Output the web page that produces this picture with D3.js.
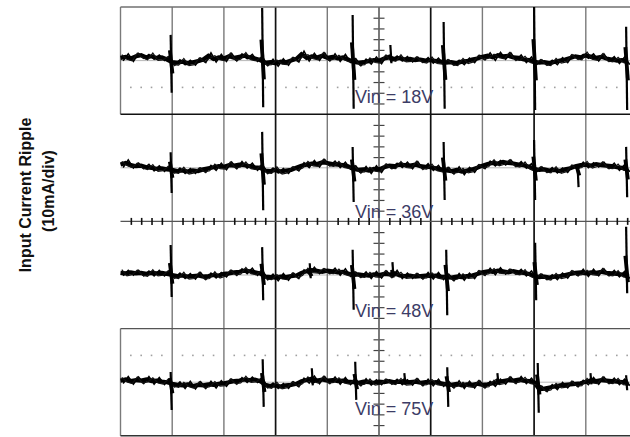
<!DOCTYPE html>
<html lang="en">
<head>
<meta charset="utf-8">
<title>Input Current Ripple</title>
<script src="https://cdn.jsdelivr.net/npm/d3@7"></script>
<style>
  body { margin: 0; background: #fff; }
  svg { display: block; }
  .lbl { font-family: "Liberation Sans", Arial, sans-serif; font-size: 18px; fill: #3c3c66; }
  .ttl { font-family: "Liberation Sans", Arial, sans-serif; font-size: 16px; font-weight: bold; fill: #111; }
</style>
</head>
<body>
<svg id="scope" width="630" height="437"></svg>
<script>
// time axis in divisions, samples every 0.1 div; values in mA (10 mA/div)
var vinLabels = ["Vin = 18V", "Vin = 36V", "Vin = 48V", "Vin = 75V"];
var offsets = [30, 10, -10, -30];   // trace baseline, mA from screen centre
var step = 0.1;

var ripple18 = [0.5,0.7,0.4,0.8,1.0,0.6,0.8,0.5,0.6,0.2, -0.3,-0.4,-0.2,-0.5,-0.3,-0.1,0.2,0.9,0.3,0.6,
  0.4,0.8,0.5,0.7,0.9,0.6,0.4,0.1,-0.4,-0.3, -0.5,-0.2,-0.3,0.0,0.3,1.2,0.5,0.8,0.6,0.9,
  0.5,0.7,0.4,0.6,0.2,-0.2,-0.4,-0.3,-0.1,0.1, 0.0,0.4,0.6,0.3,0.5,0.2,0.3,0.1,0.2,0.0,
  0.1,-0.1,-0.2,-0.4,-0.3,-0.5,-0.2,-0.1,0.2,0.4, 0.7,0.9,0.6,1.0,0.8,0.9,0.6,0.5,0.2,0.1,
  -0.2,-0.4,-0.3,-0.5,-0.2,0.0,0.2,0.5,0.8,0.6, 1.0,0.7,0.5,0.7,0.4,0.2,0.0,0.1,-0.2];
var ripple36 = [0.6,0.9,0.5,0.3,0.4,0.1,0.0,-0.2,-0.1,-0.3, -0.4,-0.6,-0.5,-0.7,-0.5,-0.6,-0.3,-0.1,0.1,0.3,
  0.2,0.5,0.4,0.6,0.5,0.3,0.1,0.0,-0.5,-0.6, -0.4,-0.7,-0.5,-0.4,0.0,0.4,0.6,0.8,0.7,1.0,
  0.9,0.7,0.6,0.5,0.3,-0.2,-0.4,-0.3,-0.5,-0.2, -0.3,0.1,0.4,0.3,0.6,0.5,0.4,0.6,0.3,0.2,
  0.1,-0.1,-0.3,-0.5,-0.6,-0.4,-0.7,-0.5,-0.3,0.0, 0.4,0.7,0.9,0.8,1.1,0.9,0.8,0.6,0.5,0.2,
  -0.2,-0.4,-0.3,-0.5,-0.4,-0.6,-0.3,-0.1,0.3,0.5, 0.6,0.4,0.7,0.5,0.4,0.3,0.1,0.0,-0.2];
var ripple48 = [0.4,0.3,0.5,0.3,0.4,0.2,0.4,0.3,0.4,0.2, 0.0,-0.2,-0.1,-0.3,-0.2,-0.1,-0.3,-0.2,0.0,-0.1,
  0.2,0.3,0.5,0.6,0.8,0.7,0.5,0.3,-0.3,-0.4, -0.5,-0.3,-0.4,-0.2,-0.1,0.4,0.7,0.9,0.8,0.6,
  0.8,0.7,0.5,0.6,0.3,0.0,0.1,0.0,-0.1,0.1, 0.0,0.2,0.1,0.3,-0.1,-0.2,-0.1,-0.3,-0.2,-0.1,
  -0.2,-0.1,-0.3,-0.4,-0.5,-0.3,-0.4,-0.2,-0.1,0.2, 0.5,0.7,0.6,0.8,0.7,0.5,0.7,0.5,0.4,0.2,
  -0.2,-0.4,-0.3,-0.5,-0.3,-0.2,0.0,0.2,0.4,0.5, 0.3,0.5,0.4,0.6,0.4,0.3,0.2,0.1,-0.1];
var ripple75 = [0.3,0.5,0.2,0.4,0.3,0.5,0.2,0.3,0.1,0.0, -0.3,-0.5,-0.6,-0.4,-0.7,-0.5,-0.6,-0.4,-0.5,-0.3,
  -0.2,0.0,0.2,0.3,0.5,0.4,0.5,0.2,-0.5,-0.7, -0.6,-0.8,-0.6,-0.5,-0.3,0.2,0.4,0.6,0.3,0.5,
  0.3,0.4,0.2,0.3,0.1,0.0,-0.1,0.1,0.0,-0.1, 0.1,0.0,0.2,0.0,0.1,-0.1,0.0,0.1,-0.1,0.0,
  -0.1,0.0,-0.2,-0.4,-0.5,-0.3,-0.6,-0.4,-0.5,-0.3, -0.5,-0.4,-0.2,0.0,0.2,0.4,0.3,0.5,0.3,0.2,
  0.0,-1.3,-1.2,-1.0,-0.8,-0.6,-0.5,-0.4,-0.3,-0.2, 0.1,0.3,0.2,0.4,0.3,0.2,0.1,0.0,-0.1];
var traces = [ripple18, ripple36, ripple48, ripple75];

// spikes: [time (div), peak (mA), trough (mA)]
var spikes18 = [[0.98,4.8,-6.0],[2.75,9.8,-8.7],[4.50,8.5,-9.0],[6.26,7.2,-9.0],[8.01,10.0,-9.2],[9.79,6.3,-9.2],[5.23,2.9,-0.5]];
var spikes36 = [[0.98,2.9,-4.7],[2.75,6.7,-7.9],[4.50,3.9,-6.4],[6.26,4.8,-6.0],[8.01,5.2,-6.0],[9.79,3.9,-5.5],[8.85,0.5,-3.6]];
var spikes48 = [[0.98,5.6,-4.1],[2.75,5.2,-4.7],[4.50,4.7,-6.5],[6.31,4.7,-7.5],[8.03,6.0,-4.7],[9.79,9.0,-3.4],[3.67,2.2,-0.6],[5.27,2.4,-0.5]];
var spikes75 = [[0.98,1.9,-5.2],[2.76,4.3,-4.6],[4.55,3.8,-3.3],[6.33,2.8,-4.6],[8.08,3.6,-5.7],[9.79,1.3,-1.5],[3.71,2.6,-0.6],[5.50,1.7,-0.4],[7.30,1.7,-0.4],[9.10,1.7,-0.4]];
var spikeSets = [spikes18, spikes36, spikes48, spikes75];

var svg = d3.select("#scope");
var x = d3.scaleLinear().domain([0, 10]).range([120.5, 637.5]);
var y = d3.scaleLinear().domain([-40, 40]).range([435.8, 7]);

var majorX = d3.range(0, 11);
var minorX = d3.range(0, 50).map(function(i){ return i / 5; }).filter(function(v){ return v % 1 != 0; });
var minorY = d3.range(-20, 21).map(function(i){ return i * 2; });

var grid = svg.append("g");

// faint lines under each trace
grid.selectAll(".base").data(offsets).enter().append("line")
  .attr("x1", x(0)).attr("x2", x(10))
  .attr("y1", function(d){ return y(d); }).attr("y2", function(d){ return y(d); })
  .attr("stroke", "#b8b8b8").attr("stroke-width", 1);

// dotted reference levels
[25, -25].forEach(function(lv){
  grid.selectAll(null).data(minorX).enter().append("rect")
    .attr("x", function(d){ return x(d) - 0.8; })
    .attr("y", y(lv) - 0.8)
    .attr("width", 1.6).attr("height", 1.6)
    .attr("fill", "#a0a0a0");
});

// vertical divisions
var darkX = [3, 6, 8];
grid.selectAll(".vx").data(majorX.slice(1)).enter().append("line")
  .attr("x1", function(d){ return x(d); }).attr("x2", function(d){ return x(d); })
  .attr("y1", y(40)).attr("y2", y(-40))
  .attr("stroke", function(d){ return darkX.indexOf(d) >= 0 ? "#111" : "#7a7a7a"; })
  .attr("stroke-width", function(d){ return darkX.indexOf(d) >= 0 ? 1.7 : 1.4; });

// left border only on first and last shot
[[40, 20], [-20, -40]].forEach(function(r){
  grid.append("line").attr("x1", x(0)).attr("x2", x(0))
    .attr("y1", y(r[0])).attr("y2", y(r[1]))
    .attr("stroke", "#7a7a7a").attr("stroke-width", 1.4);
});

// horizontal divisions
var hLines = [[40, "#707070", 1.3], [20, "#111", 1.6], [0, "#555", 1.3], [-20, "#555", 1.3], [-40, "#333", 1.5]];
grid.selectAll(".hy").data(hLines).enter().append("line")
  .attr("x1", x(0)).attr("x2", x(10))
  .attr("y1", function(d){ return y(d[0]); }).attr("y2", function(d){ return y(d[0]); })
  .attr("stroke", function(d){ return d[1]; }).attr("stroke-width", function(d){ return d[2]; });

// centre axes with minor ticks
var axX = d3.axisBottom(x).tickValues(minorX).tickSize(7).tickFormat("");
var gx = grid.append("g").attr("transform", "translate(0," + (y(0) - 3.5) + ")").call(axX);
gx.select(".domain").remove();
gx.selectAll("line").attr("stroke", "#111").attr("stroke-width", 1.6);

var axY = d3.axisRight(y).tickValues(minorY.filter(function(v){ return v % 10 != 0; })).tickSize(11).tickFormat("");
var gy = grid.append("g").attr("transform", "translate(" + (x(5) - 5.5) + ",0)").call(axY);
gy.select(".domain").remove();
gy.selectAll("line").attr("stroke", "#444").attr("stroke-width", 1.2);
grid.append("line").attr("x1", x(5)).attr("x2", x(5)).attr("y1", y(40)).attr("y2", y(-40))
  .attr("stroke", "#6a6a6a").attr("stroke-width", 1.4);

// labels
var labelLevel = [22.1, 0.6, -17.8, -36.1];
svg.selectAll(".lbl").data(vinLabels).enter().append("text")
  .attr("class", "lbl")
  .attr("x", 355)
  .attr("y", function(d, i){ return y(labelLevel[i]); })
  .text(function(d){ return d; });

// traces
var line = d3.line().x(function(d){ return x(d[0]); }).y(function(d){ return y(d[1]); });
traces.forEach(function(tr, k){
  var pts = tr.map(function(v, i){ return [i * step, offsets[k] + v]; });
  var g = svg.append("g");
  g.append("path").attr("d", line(pts))
    .attr("fill", "none").attr("stroke", "#000").attr("stroke-width", 4.2)
    .attr("stroke-linejoin", "miter");
  g.append("path").attr("d", line(pts.map(function(p, i){ return [p[0] + 0.05, p[1] + (i % 2 ? 0.55 : -0.55)]; })))
    .attr("fill", "none").attr("stroke", "#000").attr("stroke-width", 1.6);
  g.append("path").attr("d", line(pts.map(function(p, i){ return [p[0] + 0.025, p[1] + (i % 3 ? -0.45 : 0.6)]; })))
    .attr("fill", "none").attr("stroke", "#111").attr("stroke-width", 1.2);
  spikeSets[k].forEach(function(s){
    var b = offsets[k];
    g.append("path")
      .attr("d", line([[s[0] - 0.01, b + s[1]], [s[0] + 0.01, b + s[2]]]))
      .attr("fill", "none").attr("stroke", "#000").attr("stroke-width", 2.2);
    g.append("path")
      .attr("d", line([[s[0] - 0.025, b + s[1] * 0.4], [s[0] + 0.025, b + s[2] * 0.4]]))
      .attr("fill", "none").attr("stroke", "#000").attr("stroke-width", 3.8);
  });
});

// y title
var ttl = svg.append("g").attr("class", "ttl");
ttl.append("text").attr("transform", "translate(31,195) rotate(-90)")
  .attr("text-anchor", "middle").text("Input Current Ripple");
ttl.append("text").attr("transform", "translate(54,191) rotate(-90)")
  .attr("text-anchor", "middle").text("(10mA/div)");
</script>
</body>
</html>
